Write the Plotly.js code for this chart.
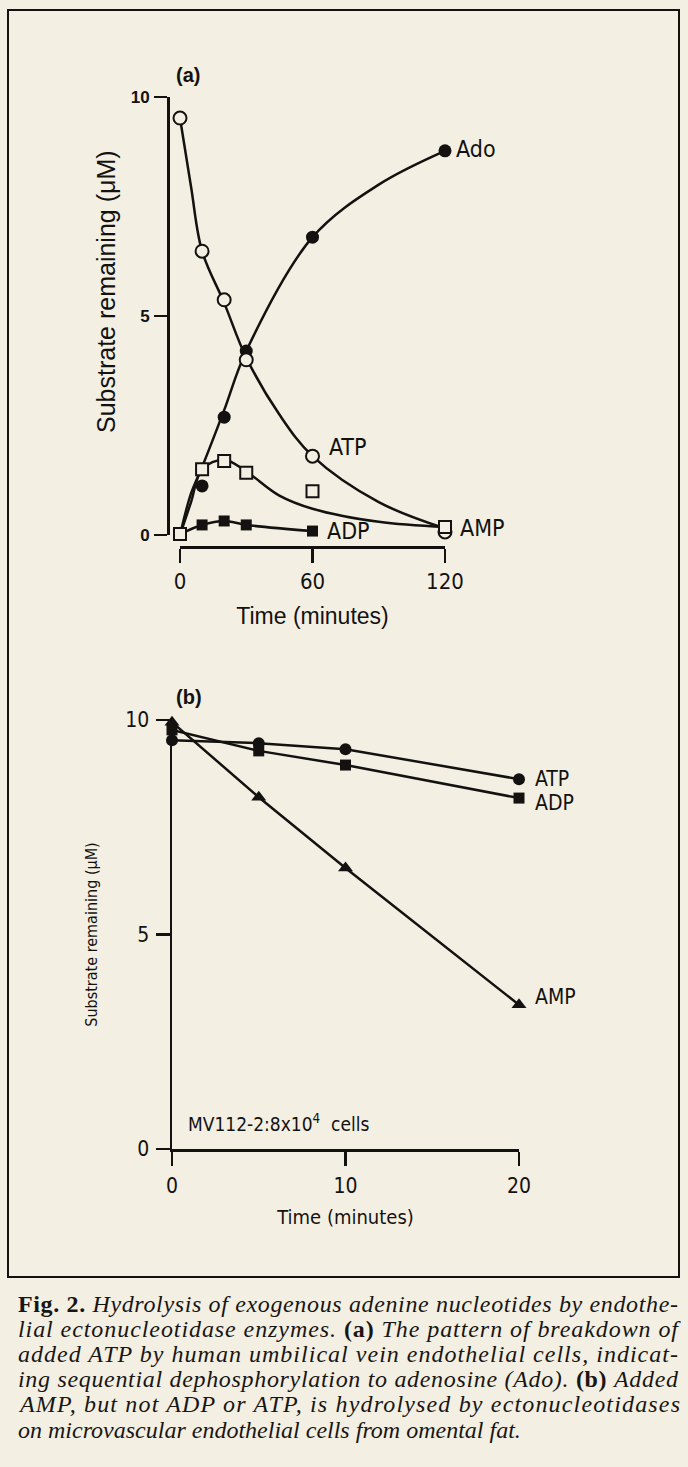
<!DOCTYPE html>
<html>
<head>
<meta charset="utf-8">
<script src="https://cdn.plot.ly/plotly-3.0.1.min.js"></script>
<style>
html,body{margin:0;padding:0;background:#f3efe3;}
#chart{width:688px;height:1467px;}
</style>
</head>
<body>
<div id="chart"></div>
<script>
// ---------- Panel (a) data: measured points ----------
const timeA = [0, 10, 20, 30, 60, 120];
const atpA = [9.52, 6.48, 5.37, 4.0, 1.8, 0.07];
const ampA = [0.02, 1.5, 1.69, 1.42, 1.0, 0.18];
const adoTimeA = [10, 20, 30, 60, 120];
const adoA = [1.12, 2.69, 4.2, 6.8, 8.77];
const adpTimeA = [10, 20, 30, 60];
const adpA = [0.23, 0.32, 0.23, 0.09];

// ---------- Panel (a) fitted curves ----------
const atpFitT = [0, 5, 10, 20, 30, 45, 60, 90, 120];
const atpFit = [9.52, 7.95, 6.48, 5.3, 4.05, 2.75, 1.8, 0.75, 0.15];
const adoFitT = [0, 5, 10, 20, 30, 60, 90, 120];
const adoFit = [0, 0.95, 1.55, 2.85, 4.2, 6.8, 8.0, 8.77];
const ampFitT = [0, 5, 10, 20, 30, 45, 60, 90, 120];
const ampFit = [0, 0.75, 1.5, 1.72, 1.45, 0.9, 0.6, 0.3, 0.18];
const adpFitT = [0, 10, 20, 30, 60];
const adpFit = [0.02, 0.23, 0.32, 0.23, 0.09];

// ---------- Panel (b) data ----------
const timeB = [0, 5, 10, 20];
const atpB = [9.53, 9.46, 9.32, 8.62];
const adpB = [9.77, 9.28, 8.95, 8.18];
const ampB = [9.95, 8.2, 6.55, 3.36];

// ---------- tick labels ----------
const xTicksA = [0, 60, 120];
const yTicksA = [0, 5, 10];
const xTicksB = [0, 10, 20];
const yTicksB = [0, 5, 10];

// ---------- styling helpers ----------
const W = 688, H = 1467;
const px = v => v / W;
const py = v => 1 - v / H;
const BG = '#f3efe3';
const INK = '#141210';
const NARROW = 'Liberation Sans Narrow, DejaVu Sans Condensed, sans-serif';
const SANS = 'Liberation Sans, Arial, sans-serif';
const COND = 'DejaVu Sans Condensed, Liberation Sans Narrow, sans-serif';
const SERIF = 'Liberation Serif, Times New Roman, serif';

function curve(x, y, xa, ya) {
  return {x: x, y: y, xaxis: xa, yaxis: ya, mode: 'lines', type: 'scatter',
    line: {color: INK, width: 2.5, shape: 'spline', smoothing: 1}, hoverinfo: 'skip'};
}
function pts(x, y, xa, ya, symbol, size, open) {
  return {x: x, y: y, xaxis: xa, yaxis: ya, mode: 'markers', type: 'scatter', cliponaxis: false,
    marker: {symbol: symbol, size: size, color: open ? BG : INK, line: {color: INK, width: open ? 2 : 0}}};
}
function seg(x, y, sym, size) {
  return {x: x, y: y, xaxis: 'x2', yaxis: 'y2', mode: 'lines+markers', type: 'scatter', cliponaxis: false,
    line: {color: INK, width: 2.5}, marker: {symbol: sym, size: size, color: INK}};
}

const data = [
  curve(atpFitT, atpFit, 'x', 'y'),
  curve(adoFitT, adoFit, 'x', 'y'),
  curve(ampFitT, ampFit, 'x', 'y'),
  curve(adpFitT, adpFit, 'x', 'y'),
  pts(adoTimeA, adoA, 'x', 'y', 'circle', 13, false),
  pts(adpTimeA, adpA, 'x', 'y', 'square', 11, false),
  pts(timeA, atpA, 'x', 'y', 'circle', 13, true),
  pts(timeA, ampA, 'x', 'y', 'square', 12, true),
  seg(timeB, atpB, 'circle', 12),
  seg(timeB, adpB, 'square', 11),
  seg(timeB, ampB, 'triangle-up', 13)
];

const axisCommon = {showgrid: false, zeroline: false, showline: true, linecolor: INK,
  ticks: 'outside', tickcolor: INK, fixedrange: true, color: INK};

const layout = {
  width: W, height: H,
  margin: {l: 0, r: 0, t: 0, b: 0},
  paper_bgcolor: BG, plot_bgcolor: 'rgba(0,0,0,0)',
  showlegend: false,
  xaxis: Object.assign({}, axisCommon, {
    domain: [px(180), px(445)], range: [0, 120], anchor: 'free', position: py(547),
    linewidth: 2.5, tickwidth: 2.5, ticklen: 14, tickvals: xTicksA, ticktext: xTicksA.map(String),
    tickfont: {family: NARROW, size: 22, color: INK}, ticklabelstandoff: 0,
    title: {text: 'Time (minutes)', font: {family: SANS, size: 23, color: INK}, standoff: 14}
  }),
  yaxis: Object.assign({}, axisCommon, {
    domain: [py(535), py(97)], range: [0, 10], anchor: 'free', position: px(168),
    linewidth: 2.5, tickwidth: 2.5, ticklen: 13, tickvals: yTicksA, ticktext: yTicksA.map(String),
    tickfont: {family: SANS, size: 17, color: INK, weight: 'bold'}, ticklabelstandoff: 1
  }),
  xaxis2: Object.assign({}, axisCommon, {
    domain: [px(172), px(519)], range: [0, 20], anchor: 'y2',
    linewidth: 2.5, tickwidth: 2.5, ticklen: 14, tickvals: xTicksB, ticktext: xTicksB.map(String),
    tickfont: {family: COND, size: 21, color: INK}, ticklabelstandoff: 2,
    title: {text: 'Time (minutes)', font: {family: COND, size: 20, color: INK}, standoff: 14}
  }),
  yaxis2: Object.assign({}, axisCommon, {
    domain: [py(1149), py(720)], range: [0, 10], anchor: 'x2',
    linewidth: 2.5, tickwidth: 2.5, ticklen: 14, tickvals: yTicksB, ticktext: yTicksB.map(String),
    tickfont: {family: COND, size: 21, color: INK}, ticklabelstandoff: 2,
    title: {text: 'Substrate remaining (μM)', font: {family: COND, size: 16, color: INK}, standoff: 24}
  }),
  shapes: [
    {type: 'rect', xref: 'paper', yref: 'paper', x0: px(8), x1: px(679), y0: py(10), y1: py(1277),
     line: {color: INK, width: 2}, fillcolor: 'rgba(0,0,0,0)'}
  ],
  annotations: []
};

const A = layout.annotations;
function lab(text, x, y, xa, ya, xs, ys, size, fam) {
  A.push({text: text, x: x, y: y, xref: xa, yref: ya, xanchor: 'left', yanchor: 'middle',
    xshift: xs, yshift: ys, showarrow: false, font: {family: fam, size: size, color: INK}});
}
// panel (a) y-axis title
A.push({text: 'Substrate remaining (μM)', x: px(106), y: py(292), xref: 'paper', yref: 'paper',
  xanchor: 'center', yanchor: 'middle', textangle: -90, showarrow: false,
  font: {family: SANS, size: 25, color: INK}});
// panel (a) series labels
lab('Ado', adoTimeA[4], adoA[4], 'x', 'y', 9, 2, 23, NARROW);
lab('ATP', timeA[4], atpA[4], 'x', 'y', 14, 9, 23, NARROW);
lab('ADP', adpTimeA[3], adpA[3], 'x', 'y', 12, 0, 23, NARROW);
lab('AMP', timeA[5], ampA[5], 'x', 'y', 13, -1, 23, NARROW);
// panel (b) series labels
lab('ATP', timeB[3], atpB[3], 'x2', 'y2', 14, 0, 21, COND);
lab('ADP', timeB[3], adpB[3], 'x2', 'y2', 14, -5, 21, COND);
lab('AMP', timeB[3], ampB[3], 'x2', 'y2', 14, 8, 21, COND);
// panel letters and cell note
A.push({text: '<b>(a)</b>', x: px(174), y: py(75), xref: 'paper', yref: 'paper', xanchor: 'left', yanchor: 'middle',
  showarrow: false, font: {family: SANS, size: 20, color: INK}});
A.push({text: '<b>(b)</b>', x: px(174), y: py(697), xref: 'paper', yref: 'paper', xanchor: 'left', yanchor: 'middle',
  showarrow: false, font: {family: SANS, size: 20, color: INK}});
A.push({text: 'MV112-2:8x10<sup>4</sup>  cells', x: px(186), y: py(1123), xref: 'paper', yref: 'paper',
  xanchor: 'left', yanchor: 'middle', showarrow: false, font: {family: COND, size: 19, color: INK}});

// caption
const captionLines = [
  '<b>Fig. 2.</b> <i>Hydrolysis of exogenous adenine nucleotides by endothe-</i>',
  '<i>lial ectonucleotidase enzymes.</i> <b>(a)</b> <i>The pattern of breakdown of</i>',
  '<i>added ATP by human umbilical vein endothelial cells, indicat-</i>',
  '<i>ing sequential dephosphorylation to adenosine (Ado).</i> <b>(b)</b> <i>Added</i>',
  '<i>AMP, but not ADP or ATP, is hydrolysed by ectonucleotidases</i>',
  '<i>on microvascular endothelial cells from omental fat.</i>'
];
const captionY = [1304, 1329, 1354, 1379, 1404, 1430];
const captionStart = A.length;
captionLines.forEach((t, i) => {
  A.push({text: t, x: px(16), y: py(captionY[i]), xref: 'paper', yref: 'paper', xanchor: 'left', yanchor: 'middle',
    align: 'left', showarrow: false, font: {family: SERIF, size: 24, color: '#181614'}});
});

Plotly.newPlot('chart', data, layout, {displayModeBar: false, staticPlot: true}).then(function () {
  // justify the first five caption lines (the last line is left ragged, as in print)
  for (let i = 0; i < captionLines.length - 1; i++) {
    const g = document.querySelector('.annotation[data-index="' + (captionStart + i) + '"] text.annotation-text');
    if (g) {
      g.setAttribute('textLength', String(676 - 16));
      g.setAttribute('lengthAdjust', 'spacing');
    }
  }
});
</script>
</body>
</html>
